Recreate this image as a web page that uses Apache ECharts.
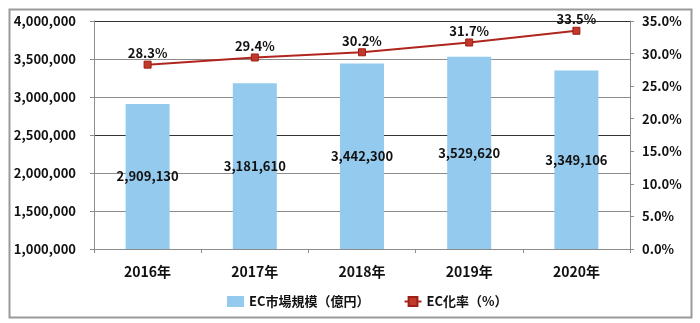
<!DOCTYPE html>
<html><head><meta charset="utf-8">
<script src="https://cdn.jsdelivr.net/npm/echarts@6/dist/echarts.min.js"></script>
<style>html,body{margin:0;padding:0;background:#fff}#c{width:700px;height:323px}</style>
</head><body><div id="c"></div>
<script>
const categories = ['2016年','2017年','2018年','2019年','2020年'];
const marketSize = [2909130, 3181610, 3442300, 3529620, 3349106];
const ecRate = [28.3, 29.4, 30.2, 31.7, 33.5];
const seriesNames = ['EC市場規模（億円）', 'EC化率（%）'];

const FONT = '"Noto Sans CJK JP", "DejaVu Sans", sans-serif';
const chart = echarts.init(document.getElementById('c'), null, {renderer: 'canvas'});
chart.setOption({
  animation: false,
  textStyle: {fontFamily: FONT},
  graphic: [{
    type: 'rect', left: 7, top: 7, z: -1,
    shape: {width: 682, height: 308},
    style: {fill: 'none', stroke: '#9a9a9a', lineWidth: 2}
  }],
  grid: {left: 94, right: 70, top: 21, bottom: 74},
  legend: {
    left: 222, top: 290, itemWidth: 17, itemHeight: 11, itemGap: 34,
    textStyle: {fontFamily: FONT, fontWeight: 'bold', fontSize: 13, color: '#111'},
    data: [{name: seriesNames[0], icon: 'rect'}, {name: seriesNames[1]}]
  },
  xAxis: {
    type: 'category', data: categories,
    axisLine: {lineStyle: {color: '#8c8c8c', width: 1}},
    axisTick: {show: true, length: 4, lineStyle: {color: '#8c8c8c'}},
    axisLabel: {fontFamily: FONT, fontWeight: 'bold', fontSize: 14, color: '#111', margin: 16}
  },
  yAxis: [{
    type: 'value', min: 1000000, max: 4000000, interval: 500000,
    axisLine: {show: true, lineStyle: {color: '#8c8c8c'}},
    axisTick: {show: true, length: 4, lineStyle: {color: '#8c8c8c'}},
    axisLabel: {fontFamily: FONT, fontWeight: 'bold', fontSize: 13, color: '#111', margin: 18,
      formatter: v => v.toLocaleString('en-US')},
    splitLine: {show: true, lineStyle: {color: ['#8c8c8c','#8c8c8c','#8c8c8c','#333','#8c8c8c','#8c8c8c','#333'], width: 1}}
  }, {
    type: 'value', min: 0, max: 35, interval: 5, position: 'right',
    axisLine: {show: true, lineStyle: {color: '#8c8c8c'}},
    axisTick: {show: true, length: 4, lineStyle: {color: '#8c8c8c'}},
    axisLabel: {fontFamily: FONT, fontWeight: 'bold', fontSize: 13, color: '#111', margin: 12,
      formatter: v => v.toFixed(1) + '%'},
    splitLine: {show: false}
  }],
  series: [{
    name: seriesNames[0], type: 'bar', data: marketSize, barWidth: 44, clip: true,
    itemStyle: {color: '#93CAED'},
    label: {show: true, position: 'inside', fontFamily: FONT, fontWeight: 'bold', fontSize: 13, color: '#111',
      formatter: p => p.value.toLocaleString('en-US')}
  }, {
    name: seriesNames[1], type: 'line', yAxisIndex: 1, data: ecRate,
    symbol: 'rect', symbolSize: 7,
    lineStyle: {color: '#B0261E', width: 2},
    itemStyle: {color: '#C0392B', borderColor: '#9E1F18', borderWidth: 1},
    label: {show: true, position: 'top', distance: 1, fontFamily: FONT, fontWeight: 'bold', fontSize: 13, color: '#111',
      formatter: p => p.value.toFixed(1) + '%'}
  }]
});
</script></body></html>
